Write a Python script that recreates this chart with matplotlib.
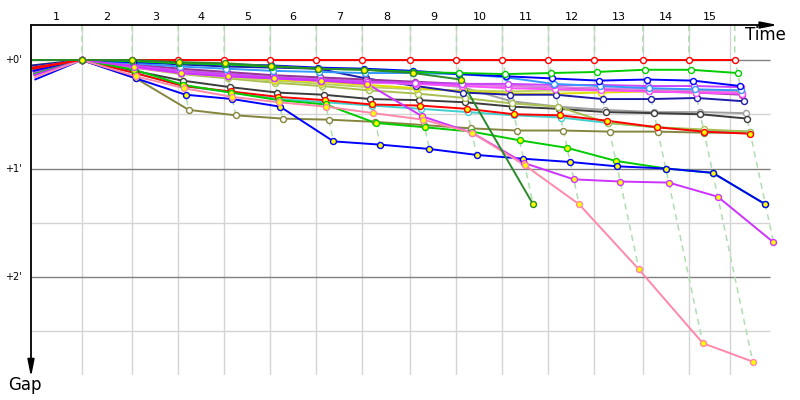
import matplotlib
matplotlib.use("Agg")
import matplotlib.pyplot as plt
import matplotlib.transforms as mtransforms
import numpy as np

nan = np.nan

# leader's elapsed time at each step (minutes), and column boundaries
lap_times = [0.0, 2.2, 4.4, 6.4, 8.4, 10.4, 12.4, 14.4, 16.5, 18.5, 20.5, 22.5, 24.5, 26.6, 28.6, 30.6]
col_bounds = [0.0, 2.2, 4.4, 6.4, 8.4, 10.4, 12.4, 14.4, 16.5, 18.5, 20.5, 22.5, 24.5, 26.6, 28.6, 30.4]
col_labels = [str(i) for i in range(1, 16)]
gap_ticks = [0, 1, 2]
gap_labels = ["+0'", "+1'", "+2'"]

# gaps (minutes) per step, one list per competitor
olive      = [0.12, 0, 0.17, 0.46, 0.51, 0.54, 0.55, 0.57, 0.60, 0.63, 0.65, 0.65, 0.66, 0.66, 0.67, 0.67]
gray       = [0.06, 0, 0.05, 0.09, 0.12, 0.15, 0.17, 0.19, 0.21, 0.25, 0.38, 0.43, 0.46, 0.48, 0.48, 0.49]
black      = [0.09, 0, 0.10, 0.19, 0.25, 0.30, 0.32, 0.36, 0.37, 0.39, 0.43, 0.45, 0.48, 0.49, 0.50, 0.54]
cyan       = [0.11, 0, 0.12, 0.24, 0.30, 0.36, 0.39, 0.42, 0.45, 0.48, 0.51, 0.53, 0.58, 0.62, 0.65, 0.66]
lightolive = [0.08, 0, 0.07, 0.13, 0.17, 0.21, 0.24, 0.28, 0.31, 0.35, 0.40, 0.43, 0.58, 0.62, 0.64, 0.66]
khaki      = [0.07, 0, 0.06, 0.12, 0.16, 0.19, 0.22, 0.25, 0.27, 0.28, 0.29, 0.28, 0.28, 0.28, 0.28, 0.28]
yellow     = [0.05, 0, 0.05, 0.10, 0.14, 0.18, 0.20, 0.23, 0.26, 0.29, 0.31, 0.31, 0.30, 0.29, 0.29, 0.29]
navy       = [0.05, 0, 0.02, 0.04, 0.06, 0.07, 0.08, 0.17, 0.24, 0.30, 0.32, 0.32, 0.36, 0.36, 0.35, 0.38]
purple     = [0.10, 0, 0.04, 0.08, 0.11, 0.14, 0.16, 0.18, 0.20, 0.22, 0.24, 0.25, 0.27, 0.29, 0.30, 0.32]
orchid     = [0.14, 0, 0.06, 0.11, 0.14, 0.17, 0.19, 0.21, 0.22, 0.23, 0.24, 0.25, 0.26, 0.27, 0.28, 0.30]
magenta    = [0.13, 0, 0.07, 0.12, 0.15, 0.17, 0.19, 0.20, 0.22, 0.24, 0.26, 0.27, 0.28, 0.29, 0.30, 0.31]
violet     = [0.12, 0, 0.05, 0.10, 0.13, 0.16, 0.18, 0.20, 0.21, 0.22, 0.22, 0.23, 0.23, 0.24, 0.24, 0.25]
lightblue  = [0.07, 0, 0.03, 0.06, 0.08, 0.10, 0.11, 0.12, 0.12, 0.13, 0.16, 0.22, 0.24, 0.26, 0.27, 0.28]
blue       = [0.10, 0, 0.02, 0.03, 0.04, 0.05, 0.07, 0.08, 0.10, 0.13, 0.15, 0.17, 0.19, 0.18, 0.19, 0.24]
green      = [0.00, 0, 0.01, 0.03, 0.04, 0.06, 0.08, 0.09, 0.11, 0.12, 0.13, 0.12, 0.11, 0.09, 0.09, 0.12]
red2       = [0.08, 0, 0.12, 0.24, 0.29, 0.34, 0.37, 0.41, 0.42, 0.45, 0.50, 0.51, 0.56, 0.62, 0.66, 0.68]
green_low  = [0.13, 0, 0.09, 0.23, 0.30, 0.37, 0.41, 0.58, 0.62, 0.66, 0.74, 0.81, 0.93, 1.00, 1.04, 1.33]
blue_low   = [0.18, 0, 0.17, 0.32, 0.36, 0.43, 0.75, 0.78, 0.82, 0.875, 0.91, 0.94, 0.98, 1.00, 1.04, 1.33]
violet_low = [0.14, 0, 0.06, 0.12, 0.15, 0.17, 0.19, 0.22, 0.52, 0.67, 0.95, 1.10, 1.12, 1.13, 1.26, 1.68]
pink       = [0.16, 0, 0.15, 0.26, 0.34, 0.39, 0.43, 0.49, 0.55, 0.67, 0.97, 1.33, 1.93, 2.61, 2.78, nan]
darkgreen  = [0.00, 0, 0.00, 0.02, 0.03, 0.055, 0.08, 0.09, 0.12, 0.18, 1.33, nan, nan, nan, nan, nan]
red        = [0.07, 0, 0, 0, 0, 0, 0, 0, 0, 0, 0, 0, 0, 0, 0, 0]

series = [
    (olive, "#85853f", "white"),
    (gray, "#a0a0a0", "white"),
    (black, "#3c3c3c", "white"),
    (cyan, "#3fcfcf", "white"),
    (lightolive, "#a8c050", "white"),
    (khaki, "#bcd060", "yellow"),
    (yellow, "#e0e000", "white"),
    (navy, "#1c1ca8", "white"),
    (purple, "#993399", "white"),
    (orchid, "#e080e0", "white"),
    (magenta, "#ff50ff", "white"),
    (violet, "#cc44ff", "white"),
    (lightblue, "#3399ff", "white"),
    (blue, "#0000ff", "white"),
    (green, "#00cc00", "white"),
    (red2, "#ff0000", "yellow"),
    (green_low, "#00cc00", "yellow"),
    (blue_low, "#0000ff", "yellow"),
    (violet_low, "#cc33ff", "yellow"),
    (pink, "#ff88aa", "yellow"),
    (red, "#ff0000", "white"),
    (darkgreen, "#2a8a2a", "yellow"),
]

fig = plt.figure(figsize=(8, 4), dpi=100)
ax = fig.add_axes([31 / 800, 1 - 375 / 400, 749 / 800, 350 / 400])
xmax = 749 / 23.0
ytop, ybot = -35 / 108.5, 315 / 108.5
ax.set_xlim(0, xmax)
ax.set_ylim(ybot, ytop)
ax.axis("off")

xline_end = 739 / 23.0
# grid
ax.vlines(col_bounds[1:], ybot, ytop, color="#d4d4d4", lw=1, zorder=0)
ax.hlines([0.5, 1.5, 2.5], 0, xline_end, color="#d4d4d4", lw=1, zorder=0)
ax.hlines(gap_ticks, 0, xline_end, color="#808080", lw=1, zorder=0.5)

# dashed step lines
lt = np.array(lap_times)
gaps = np.array([s[0] for s in series], dtype=float)
for k in range(1, len(lt)):
    g = gaps[:, k]
    gmax = np.nanmax(g)
    ax.plot([lt[k], lt[k], lt[k] + gmax], [ytop, 0, gmax], color="#b0deb0",
            lw=1.1, dashes=(4, 3), zorder=1)

# competitor lines
for i, (g, col, fill) in enumerate(series):
    g = np.array(g, dtype=float)
    x = lt + g
    ax.plot(x, g, color=col, lw=1.4, zorder=2 + i * 0.01, solid_capstyle="round")
    ax.plot(x[1:], g[1:], ls="none", marker="o", ms=4.3, mfc=fill, mec=col, mew=1.0,
            zorder=3 + i * 0.01)

# axes arrows
ax.annotate("", xy=(0.997, 1), xytext=(0, 1), xycoords="axes fraction",
            arrowprops=dict(arrowstyle="-|>,head_length=1.0,head_width=0.2",
                            color="black", lw=1.3, mutation_scale=10, shrinkA=0, shrinkB=0))
ax.annotate("", xy=(0, -0.006), xytext=(0, 1), xycoords="axes fraction",
            arrowprops=dict(arrowstyle="-|>,head_length=1.0,head_width=0.2",
                            color="black", lw=1.3, mutation_scale=10, shrinkA=0, shrinkB=0))

# labels
tr_top = mtransforms.blended_transform_factory(ax.transData, ax.transAxes)
for i, lab in enumerate(col_labels):
    mid = (col_bounds[i] + col_bounds[i + 1]) / 2
    ax.text(mid, 1.023, lab, transform=tr_top, ha="center", va="center", fontsize=8)

tr_left = mtransforms.blended_transform_factory(ax.transAxes, ax.transData)
for v, lab in zip(gap_ticks, gap_labels):
    ax.text(-0.012, v, lab, transform=tr_left, ha="right", va="center", fontsize=7)

ax.text(0.981, 0.971, "Time", transform=ax.transAxes, ha="center", va="center", fontsize=12)
ax.text(-0.008, -0.029, "Gap", transform=ax.transAxes, ha="center", va="center", fontsize=12)

fig.savefig("out.png", dpi=100)
